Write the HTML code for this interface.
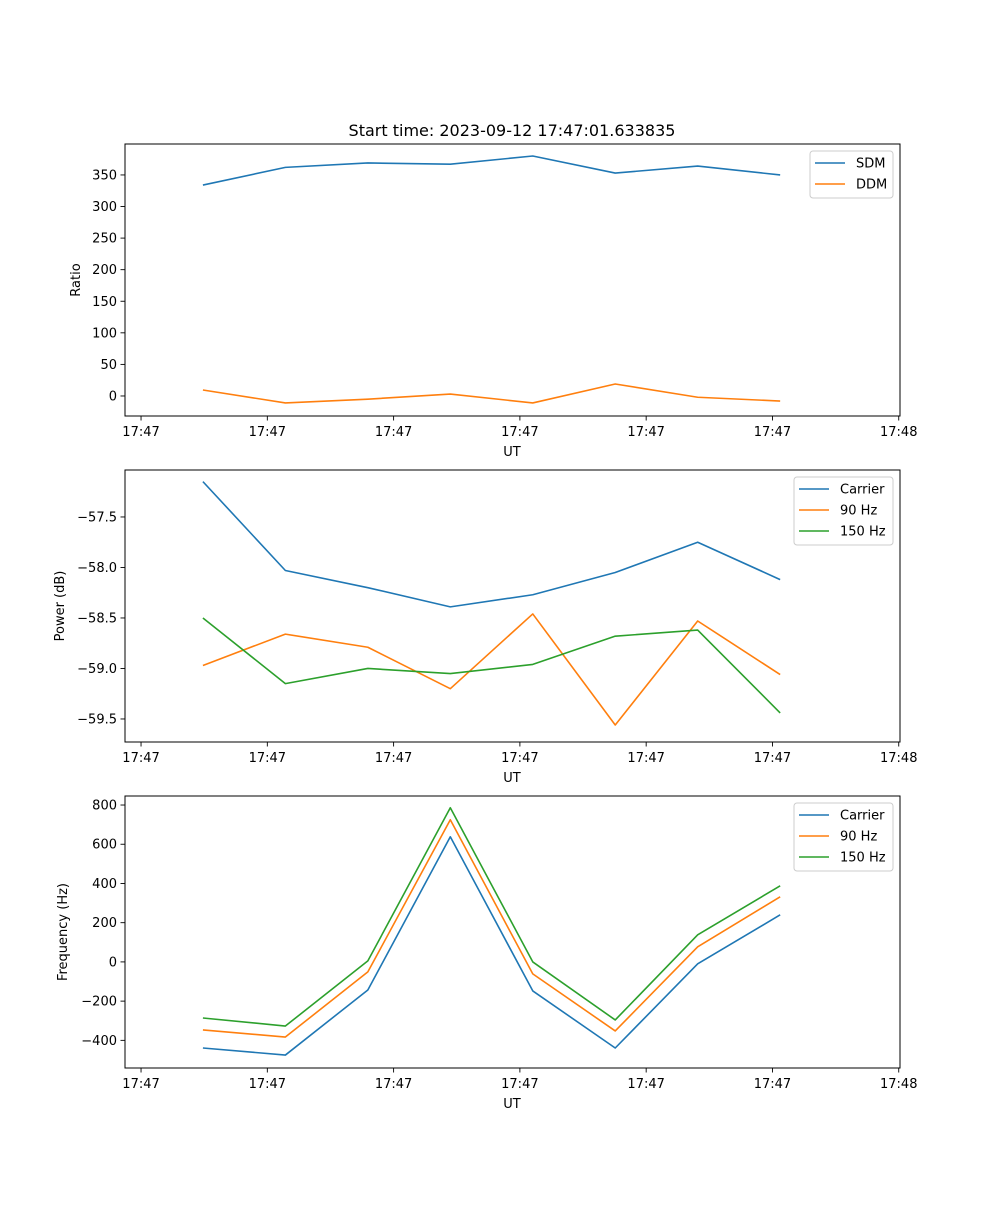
<!DOCTYPE html>
<html><head><meta charset="utf-8">
<style>
html,body{margin:0;padding:0;background:#fff;}
svg text{font-family:"DejaVu Sans","Liberation Sans",sans-serif;fill:#000;}
</style></head>
<body>
<svg id="fig" width="1000" height="1200" xmlns="http://www.w3.org/2000/svg">
<rect width="1000" height="1200" fill="#fff"/>
<text x="512" y="136" font-size="16" text-anchor="middle">Start time: 2023-09-12 17:47:01.633835</text>
</svg>
<script>
// shared x data: sample times (tick units)
const sampleTimes = [0.49, 1.143, 1.796, 2.449, 3.102, 3.755, 4.408, 5.061];
const xTickValues = [0, 1, 2, 3, 4, 5, 6];
const xTickLabels = ["17:47","17:47","17:47","17:47","17:47","17:47","17:48"];

// panel 1: ratio
const sdmValues = [334, 362, 369, 367, 380, 353, 364, 350];
const ddmValues = [9.5, -11, -5, 3, -11, 19, -2, -8];
const ratioTicks = [0, 50, 100, 150, 200, 250, 300, 350];
// panel 2: power
const powerCarrier = [-57.15, -58.03, -58.2, -58.39, -58.27, -58.05, -57.75, -58.12];
const power90 = [-58.97, -58.66, -58.79, -59.2, -58.46, -59.56, -58.53, -59.06];
const power150 = [-58.5, -59.15, -59.0, -59.05, -58.96, -58.68, -58.62, -59.44];
const powerTicks = [-57.5, -58.0, -58.5, -59.0, -59.5];
const powerTickLabels = ["\u221257.5","\u221258.0","\u221258.5","\u221259.0","\u221259.5"];
// panel 3: frequency
const freqCarrier = [-439, -475, -143, 638, -148, -439, -10, 240];
const freq90 = [-347, -383, -51, 725, -61, -352, 77, 332];
const freq150 = [-286, -327, 5, 786, 0, -296, 138, 388];
const freqTicks = [-400, -200, 0, 200, 400, 600, 800];

const C1="#1f77b4", C2="#ff7f0e", C3="#2ca02c";
const NS="http://www.w3.org/2000/svg";
const svg=document.getElementById('fig');
function mk(tag,attrs,parent){const e=document.createElementNS(NS,tag);for(const k in attrs)e.setAttribute(k,attrs[k]);(parent||svg).appendChild(e);return e;}

const AX_L=125, AX_R=900, X_MIN=-0.127, X_MAX=6.01;
function xScale(v){return AX_L+(v-X_MIN)/(X_MAX-X_MIN)*(AX_R-AX_L);}

function panel(o){
  const g=mk('g',{});
  
  
  const yS=v=>o.bot-(v-o.ymin)/(o.ymax-o.ymin)*(o.bot-o.top);
  // series
  o.series.forEach(s=>{
    const pts=s.vals.map((v,i)=>xScale(sampleTimes[i]).toFixed(2)+','+yS(v).toFixed(2)).join(' ');
    const pl=mk('polyline',{points:pts,fill:'none',stroke:s.color,'stroke-width':1.6,'stroke-linejoin':'round'},g);
    
    
  });
  // frame
  const fr=mk('rect',{x:AX_L,y:o.top,width:AX_R-AX_L,height:o.bot-o.top,fill:'none',stroke:'#000','stroke-width':1},g);
  
  
  // x ticks
  xTickValues.forEach((v,i)=>{
    const x=xScale(v);
    mk('line',{x1:x,x2:x,y1:o.bot,y2:o.bot+4.5,stroke:'#000','stroke-width':0.9},g);
    const t=mk('text',{x:x,y:o.bot+20,'font-size':13,'text-anchor':'middle'},g);
    t.textContent=xTickLabels[i];
    
    
  });
  const xl=mk('text',{x:512,y:o.bot+40,'font-size':13,'text-anchor':'middle'},g);
  xl.textContent='UT';
  
  
  // y ticks
  o.yticks.forEach((v,i)=>{
    const y=yS(v);
    mk('line',{x1:AX_L-4.5,x2:AX_L,y1:y,y2:y,stroke:'#000','stroke-width':0.9},g);
    const t=mk('text',{x:AX_L-8,y:y+4.5,'font-size':13,'text-anchor':'end'},g);
    t.textContent=o.ylabels?o.ylabels[i]:String(v).replace('-','\u2212');
    
    
  });
  const cy=(o.top+o.bot)/2;
  const yl=mk('text',{x:o.ytx,y:cy,'font-size':13,'text-anchor':'middle',transform:`rotate(-90 ${o.ytx} ${cy})`},g);
  yl.textContent=o.ytitle;
  
  
  // legend
  const lg=mk('g',{},g);
  
  
  mk('rect',{x:o.lx,y:o.top+7,width:893-o.lx,height:o.series.length*21+5,rx:3,fill:'#fff','fill-opacity':0.8,stroke:'#ccc','stroke-width':1},lg);
  o.series.forEach((s,i)=>{
    const y=o.top+19+i*21;
    mk('line',{x1:o.lx+5,x2:o.lx+35,y1:y,y2:y,stroke:s.color,'stroke-width':1.6},lg);
    const t=mk('text',{x:o.lx+46,y:y+4.5,'font-size':13},lg);
    t.textContent=s.label;
    
    
  });
}

panel({name:'ratio-panel',top:144,bot:416,ymin:-31.7,ymax:399,yticks:ratioTicks,ytitle:'Ratio',ytx:80,lx:810,
  series:[{key:'sdm',label:'SDM',vals:sdmValues,color:C1},{key:'ddm',label:'DDM',vals:ddmValues,color:C2}]});
panel({name:'power-panel',top:470,bot:742,ymin:-59.728,ymax:-57.035,yticks:powerTicks,ylabels:powerTickLabels,ytitle:'Power (dB)',ytx:64,lx:794,
  series:[{key:'power-carrier',label:'Carrier',vals:powerCarrier,color:C1},{key:'power-90hz',label:'90 Hz',vals:power90,color:C2},{key:'power-150hz',label:'150 Hz',vals:power150,color:C3}]});
panel({name:'frequency-panel',top:796,bot:1068,ymin:-541,ymax:846,yticks:freqTicks,ytitle:'Frequency (Hz)',ytx:67,lx:794,
  series:[{key:'freq-carrier',label:'Carrier',vals:freqCarrier,color:C1},{key:'freq-90hz',label:'90 Hz',vals:freq90,color:C2},{key:'freq-150hz',label:'150 Hz',vals:freq150,color:C3}]});
</script>
</body></html>
